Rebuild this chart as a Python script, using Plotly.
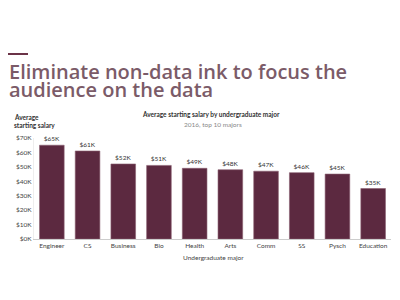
import plotly.graph_objects as go

majors = ["Engineer", "CS", "Business", "Bio", "Health", "Arts", "Comm", "SS", "Pysch", "Education"]
salaries = [65, 61, 52, 51, 49, 48, 47, 46, 45, 35]
bar_labels = ["$65K", "$61K", "$52K", "$51K", "$49K", "$48K", "$47K", "$46K", "$45K", "$35K"]
y_ticks = [0, 10, 20, 30, 40, 50, 60, 70]
y_tick_text = ["$0K", "$10K", "$20K", "$30K", "$40K", "$50K", "$60K", "$70K"]

L, R, T, B = 34, 9, 138, 61
W, H = 400, 300
pw, ph = W - L - R, H - T - B

def px(x):
    return (x - L) / pw

def py(y):
    return (H - B - y) / ph

fig = go.Figure(go.Bar(
    x=majors, y=salaries, text=bar_labels, textposition="outside",
    marker=dict(color="#5c2940", line=dict(color="#8a6070", width=0.6)),
    textfont=dict(family="Lato", size=6.5, color="#333333"),
    cliponaxis=False,
))

fig.update_layout(
    width=W, height=H, margin=dict(l=L, r=R, t=T, b=B),
    paper_bgcolor="white", plot_bgcolor="white",
    bargap=0.31, showlegend=False,
    font=dict(family="Lato", color="#333333"),
    xaxis=dict(showline=True, linecolor="#cccccc", linewidth=1, ticks="",
               tickfont=dict(size=6.5, color="#444444"), showgrid=False),
    yaxis=dict(range=[0, 70], tickvals=y_ticks, ticktext=y_tick_text,
               showline=True, linecolor="#eeeeee", linewidth=1, showgrid=False,
               zeroline=False, tickfont=dict(size=6.5, color="#444444"), ticks=""),
)

fig.add_shape(type="rect", xref="paper", yref="paper",
              x0=px(8), x1=px(28), y0=py(55), y1=py(53),
              fillcolor="#6b3347", line=dict(width=0))

title_font = dict(family="Open Sans", size=20, color="#7b5b68", weight=600)
anns = [
    dict(text="Eliminate non-data ink to focus the", x=px(7), y=py(71), xanchor="left",
         font=title_font),
    dict(text="audience on the data", x=px(7), y=py(89.5), xanchor="left",
         font=title_font),
    dict(text="<b>Average starting salary by undergraduate major</b>", x=px(211), y=py(114), xanchor="center",
         font=dict(family="Lato", size=6.5, color="#333333")),
    dict(text="2016, top 10 majors", x=px(213), y=py(124), xanchor="center",
         font=dict(family="Lato", size=6.5, color="#888888")),
    dict(text="<b>Average</b>", x=px(12), y=py(117), xanchor="left",
         font=dict(family="Lato", size=6.5, color="#333333")),
    dict(text="<b>starting salary</b>", x=px(12), y=py(126), xanchor="left",
         font=dict(family="Lato", size=6.5, color="#333333")),
    dict(text="Undergraduate major", x=px(213), y=py(257), xanchor="center",
         font=dict(family="Lato", size=6.5, color="#444444")),
]
for a in anns:
    fig.add_annotation(xref="paper", yref="paper", showarrow=False, yanchor="middle", **a)

fig.write_html("out.html")
